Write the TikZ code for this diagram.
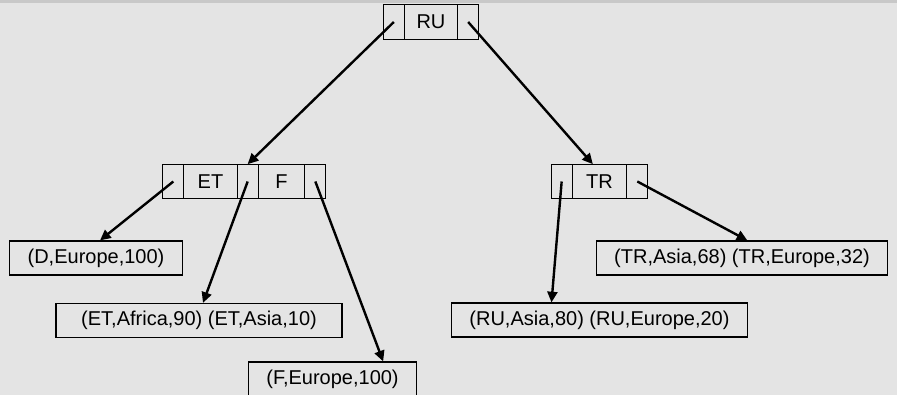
\documentclass[tikz,border=0pt]{standalone}
\usepackage{fontspec}
\setmainfont{Liberation Sans}
\usepackage{xcolor}
\usepackage{tikz}
\usetikzlibrary{arrows.meta,positioning}

\definecolor{paper}{HTML}{E4E4E4}
\definecolor{rim}{HTML}{C8C8C8}

\tikzset{
  cell/.style={draw, line width=0.9pt, minimum height=26pt, inner sep=0pt,
    outer sep=0pt, font=\fontsize{15}{18}\selectfont},
  ptr/.style={cell, minimum width=15.75pt},
  key/.style={cell, minimum width=40pt},
  leaf/.style={draw, line width=0.9pt, minimum height=25.5pt, inner xsep=13.5pt,
    inner ysep=0pt, font=\fontsize{15}{18}\selectfont},
  link/.style={-{Triangle[length=8pt,width=7.5pt]}, line width=1.8pt},
}

\begin{document}
\begin{tikzpicture}[x=0.75pt, y=-0.75pt]
  % Hintergrund
  \fill[paper] (0,0) rectangle (897,395);
  \fill[rim] (0,0) rectangle (897,3);
  \useasboundingbox (0,0) rectangle (897,395);

  % Wurzel
  \node[key] (ru) at (431,22) {RU};
  \node[ptr, left=0pt of ru] (ru-l) {};
  \node[ptr, right=0pt of ru] (ru-r) {};

  % linker Knoten
  \node[key] (et) at (210.5,181.5) {ET};
  \node[ptr, left=0pt of et] (et-l) {};
  \node[ptr, right=0pt of et] (et-m) {};
  \node[key, minimum width=35pt, right=0pt of et-m] (f) {F};
  \node[ptr, right=0pt of f] (f-r) {};

  % rechter Knoten
  \node[key, minimum width=41pt] (tr) at (599.5,181.5) {TR};
  \node[ptr, left=0pt of tr] (tr-l) {};
  \node[ptr, right=0pt of tr] (tr-r) {};

  % Blaetter
  \node[leaf] (dleaf) at (96,258) {(D,Europe,100)};
  \node[leaf, minimum width=214.5pt] (etleaf) at (199,320.5) {(ET,Africa,90) (ET,Asia,10)};
  \node[leaf] (fleaf) at (332.5,379) {(F,Europe,100)};
  \node[leaf] (ruleaf) at (599.5,320) {(RU,Asia,80) (RU,Europe,20)};
  \node[leaf] (trleaf) at (742,258) {(TR,Asia,68) (TR,Europe,32)};

  % Zeiger
  \draw[link] (ru-l.center) -- (et-m.north);
  \draw[link] (ru-r.center) -- ([xshift=-5pt]tr.north);
  \draw[link] (et-l.center) -- ([xshift=3pt]dleaf.north);
  \draw[link] (et-m.center) -- ([xshift=3pt]etleaf.north);
  \draw[link] (f-r.center) -- ([xshift=38pt]fleaf.north);
  \draw[link] (tr-l.center) -- ([xshift=-36pt]ruleaf.north);
  \draw[link] (tr-r.center) -- ([xshift=4pt]trleaf.north);
\end{tikzpicture}
\end{document}
